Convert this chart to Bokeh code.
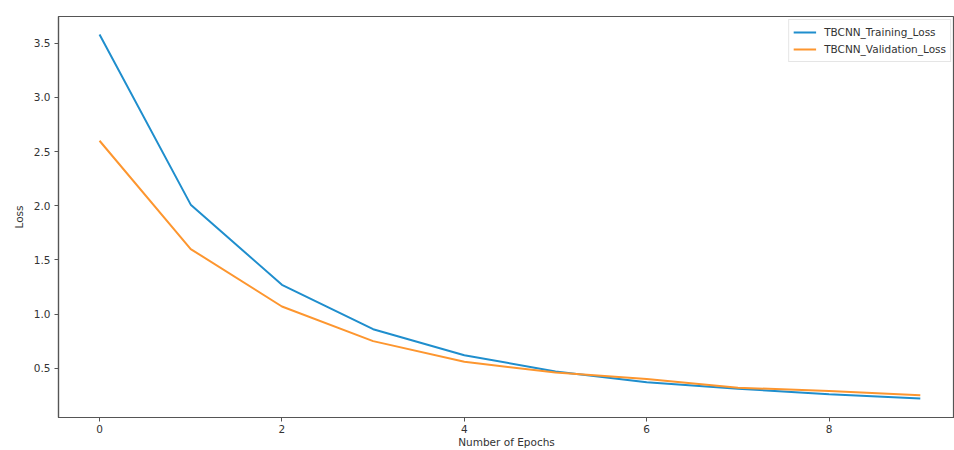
from bokeh.plotting import figure
from bokeh.models import Range1d, FixedTicker, Legend, LegendItem
from bokeh.embed import file_html
from bokeh.resources import INLINE

epochs = [0, 1, 2, 3, 4, 5, 6, 7, 8, 9]
train_loss = [3.58, 2.01, 1.27, 0.86, 0.62, 0.47, 0.37, 0.31, 0.26, 0.22]
val_loss = [2.60, 1.60, 1.07, 0.75, 0.56, 0.46, 0.40, 0.32, 0.29, 0.25]
x_ticks = [0, 2, 4, 6, 8]
y_ticks = [0.5, 1.0, 1.5, 2.0, 2.5, 3.0, 3.5]

FONT = "DejaVu Sans"
TXT = "#333333"
AX = "#555555"

p = figure(width=954, height=450,
           x_range=Range1d(-0.45, 9.375), y_range=Range1d(0.045, 3.747),
           output_backend="svg", toolbar_location=None,
           min_border_left=58, min_border_right=0,
           min_border_top=16, min_border_bottom=33)

p.background_fill_color = "white"
p.border_fill_color = "white"
p.outline_line_color = AX
p.outline_line_width = 1.2
p.xgrid.grid_line_color = None
p.ygrid.grid_line_color = None

for ax in (p.xaxis, p.yaxis):
    ax.axis_line_color = AX
    ax.axis_line_width = 1.2
    ax.major_tick_line_color = AX
    ax.major_tick_out = 4
    ax.major_tick_in = 0
    ax.minor_tick_line_color = None
    ax.major_label_text_font = FONT
    ax.major_label_text_font_size = "10.5px"
    ax.major_label_text_color = TXT
    ax.axis_label_text_font = FONT
    ax.axis_label_text_font_size = "10.5px"
    ax.axis_label_text_font_style = "normal"
    ax.axis_label_text_color = TXT

p.xaxis.ticker = FixedTicker(ticks=x_ticks)
p.yaxis.ticker = FixedTicker(ticks=y_ticks)
p.yaxis.major_label_overrides = {v: f"{v:.1f}" for v in y_ticks}
p.xaxis.axis_label = "Number of Epochs"
p.yaxis.axis_label = "Loss"
p.xaxis.major_label_standoff = 3
p.yaxis.major_label_standoff = 4
p.xaxis.axis_label_standoff = 0
p.yaxis.axis_label_standoff = 6

r1 = p.line(epochs, train_loss, line_color="#1f8ecd", line_width=2)
r2 = p.line(epochs, val_loss, line_color="#fd962f", line_width=2)

legend = Legend(items=[LegendItem(label="TBCNN_Training_Loss", renderers=[r1]),
                       LegendItem(label="TBCNN_Validation_Loss", renderers=[r2])],
                location="top_right")
legend.margin = 3
legend.padding = 4
legend.spacing = 1
legend.label_height = 16
legend.glyph_height = 16
legend.glyph_width = 23
legend.label_standoff = 8
legend.label_text_font = FONT
legend.label_text_font_size = "10.5px"
legend.label_text_color = TXT
legend.border_line_color = "#cccccc"
legend.border_line_width = 1
legend.background_fill_alpha = 1
p.add_layout(legend)

open("out.html", "w").write(file_html(p, INLINE))
